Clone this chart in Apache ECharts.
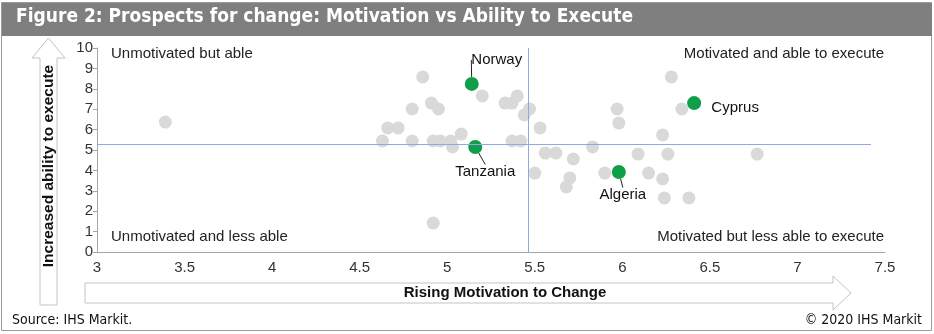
<!DOCTYPE html>
<html>
<head>
<meta charset="utf-8">
<script src="https://cdn.jsdelivr.net/npm/echarts@6/dist/echarts.min.js"></script>
<style>
html,body{margin:0;padding:0;background:#fff;}
#c{width:934px;height:334px;}
</style>
</head>
<body>
<div id="c"></div>
<script>
// ---- data ----
const titleText = 'Figure 2: Prospects for change: Motivation vs Ability to Execute';
const xAxisTitle = 'Rising Motivation to Change';
const yAxisTitle = 'Increased ability to execute';
const sourceText = 'Source: IHS Markit.';
const copyrightText = '\u00a9 2020 IHS Markit';
const quadrantLabels = ['Unmotivated but able', 'Motivated and able to execute', 'Unmotivated and less able', 'Motivated but less able to execute'];

const otherX = [3.39, 4.86, 4.80, 4.91, 4.95, 4.66, 4.72, 4.63, 4.80, 4.92, 4.96, 5.02, 5.03, 5.08, 5.20, 5.33, 5.37, 5.40, 5.37, 5.42, 5.47, 5.44, 5.53, 5.56, 5.62, 5.72, 5.83, 5.50, 5.70, 5.68, 5.90, 6.28, 6.34, 5.97, 5.98, 6.23, 6.09, 6.26, 6.77, 6.15, 6.23, 6.24, 6.38, 4.92];
const otherY = [6.37, 8.58, 7.01, 7.30, 7.01, 6.08, 6.08, 5.44, 5.44, 5.44, 5.44, 5.44, 5.15, 5.78, 7.65, 7.30, 7.30, 7.65, 5.44, 5.44, 7.01, 6.72, 6.08, 4.85, 4.85, 4.56, 5.15, 3.87, 3.63, 3.19, 3.87, 8.58, 7.01, 7.01, 6.32, 5.74, 4.80, 4.80, 4.80, 3.87, 3.58, 2.65, 2.65, 1.42];

const namedCountries = ['Norway', 'Tanzania', 'Cyprus', 'Algeria'];
const namedX = [5.14, 5.16, 6.41, 5.98];
const namedY = [8.24, 5.15, 7.30, 3.92];

const refMotivation = 5.46;
const refAbility = 5.27;
const xMin = 3, xMax = 7.5, xStep = 0.5;
const yMin = 0, yMax = 10, yStep = 1;

// ---- styles (label placement) ----
const labelShift = {
  Norway:   {dx: 25, dy: -24, line: true},
  Tanzania: {dx: 10, dy: 25, line: true},
  Cyprus:   {dx: 41, dy: 5,  line: false},
  Algeria:  {dx: 4,  dy: 23, line: true}
};

const FONT = "'Liberation Sans', Arial, sans-serif";
const NARROW = "'Liberation Sans Narrow', 'Arial Narrow', 'DejaVu Sans Condensed', sans-serif";

const chart = echarts.init(document.getElementById('c'), null, {renderer: 'canvas'});

const otherData = otherX.map((x, i) => [x, otherY[i]]);
const namedData = namedCountries.map((n, i) => ({
  name: n,
  value: [namedX[i], namedY[i]],
  labelLine: {show: labelShift[n].line}
}));

const option = {
  animation: false,
  backgroundColor: '#fff',
  grid: {left: 97, right: 49, top: 48, bottom: 82, containLabel: false},
  xAxis: {
    type: 'value', min: xMin, max: xMax, interval: xStep,
    axisLine: {show: true, lineStyle: {color: '#a6a6a6', width: 1}},
    axisTick: {show: false},
    splitLine: {show: false},
    axisLabel: {color: '#333', fontFamily: FONT, fontSize: 15, margin: 8}
  },
  yAxis: {
    type: 'value', min: yMin, max: yMax, interval: yStep,
    axisLine: {show: true, lineStyle: {color: '#a6a6a6', width: 1}},
    axisTick: {show: true, length: 4, lineStyle: {color: '#a6a6a6'}},
    splitLine: {show: false},
    axisLabel: {color: '#333', fontFamily: FONT, fontSize: 15, margin: 4}
  },
  series: [
    {
      type: 'scatter',
      data: otherData,
      symbolSize: 13,
      itemStyle: {color: '#d9d9d9', opacity: 1},
      z: 2,
      markLine: {
        silent: true, symbol: 'none',
        label: {show: false},
        lineStyle: {color: '#8faadc', width: 1, type: 'solid'},
        data: [
          [{coord: [xMin, refAbility]}, {coord: [7.42, refAbility]}],
          [{coord: [refMotivation, yMin]}, {coord: [refMotivation, yMax]}]
        ]
      }
    },
    {
      type: 'scatter',
      data: namedData,
      symbolSize: 14,
      itemStyle: {color: '#0f9f48', opacity: 1},
      z: 3,
      label: {
        show: true, position: 'inside',
        formatter: p => p.name,
        color: '#111', fontFamily: FONT, fontSize: 15
      },
      labelLine: {show: true, lineStyle: {color: '#222', width: 1}},
      labelLayout: function (p) {
        const n = namedCountries[p.dataIndex];
        return {dx: labelShift[n].dx, dy: labelShift[n].dy};
      }
    }
  ],
  graphic: [
    {type: 'rect', shape: {x: 1.5, y: 2.5, width: 930, height: 328}, style: {fill: 'none', stroke: '#9a9a9a', lineWidth: 1}, z: 0},
    {type: 'rect', shape: {x: 2, y: 3, width: 930, height: 33}, style: {fill: '#7f7f7f'}, z: 1},
    {type: 'text', left: 16, top: 8, style: {text: titleText, fill: '#fff', font: "bold 19px " + NARROW}, z: 2},
    {type: 'text', left: 12, top: 313, style: {text: sourceText, fill: '#111', font: "14px " + NARROW}},
    {type: 'text', right: 12, top: 313, style: {text: copyrightText, fill: '#111', font: "14px " + NARROW}},
    // y arrow
    {type: 'polygon', shape: {points: [[40, 305], [57, 305], [57, 58], [65, 58], [48.5, 38], [32, 58], [40, 58]]}, style: {fill: '#fff', stroke: '#c4c4c4', lineWidth: 1}, z: 0},
    {type: 'text', x: 48.5, y: 166, rotation: Math.PI / 2, style: {text: yAxisTitle, fill: '#111', font: "bold 15.5px " + FONT, align: 'center', verticalAlign: 'middle'}, z: 2},
    // x arrow
    {type: 'polygon', shape: {points: [[85, 283], [833, 283], [833, 276], [851, 293], [833, 310], [833, 303], [85, 303]]}, style: {fill: '#fff', stroke: '#c4c4c4', lineWidth: 1}, z: 0},
    {type: 'text', x: 505, y: 293, style: {text: xAxisTitle, fill: '#111', font: "bold 15px " + FONT, align: 'center', verticalAlign: 'middle'}, z: 2},
    // quadrant texts
    {type: 'text', x: 111, y: 54, style: {text: quadrantLabels[0], fill: '#222', font: "15px " + FONT, align: 'left', verticalAlign: 'middle'}},
    {type: 'text', x: 884, y: 54, style: {text: quadrantLabels[1], fill: '#222', font: "15px " + FONT, align: 'right', verticalAlign: 'middle'}},
    {type: 'text', x: 111, y: 237, style: {text: quadrantLabels[2], fill: '#222', font: "15px " + FONT, align: 'left', verticalAlign: 'middle'}},
    {type: 'text', x: 884, y: 237, style: {text: quadrantLabels[3], fill: '#222', font: "15px " + FONT, align: 'right', verticalAlign: 'middle'}}
  ]
};
chart.setOption(option);
</script>
</body>
</html>
